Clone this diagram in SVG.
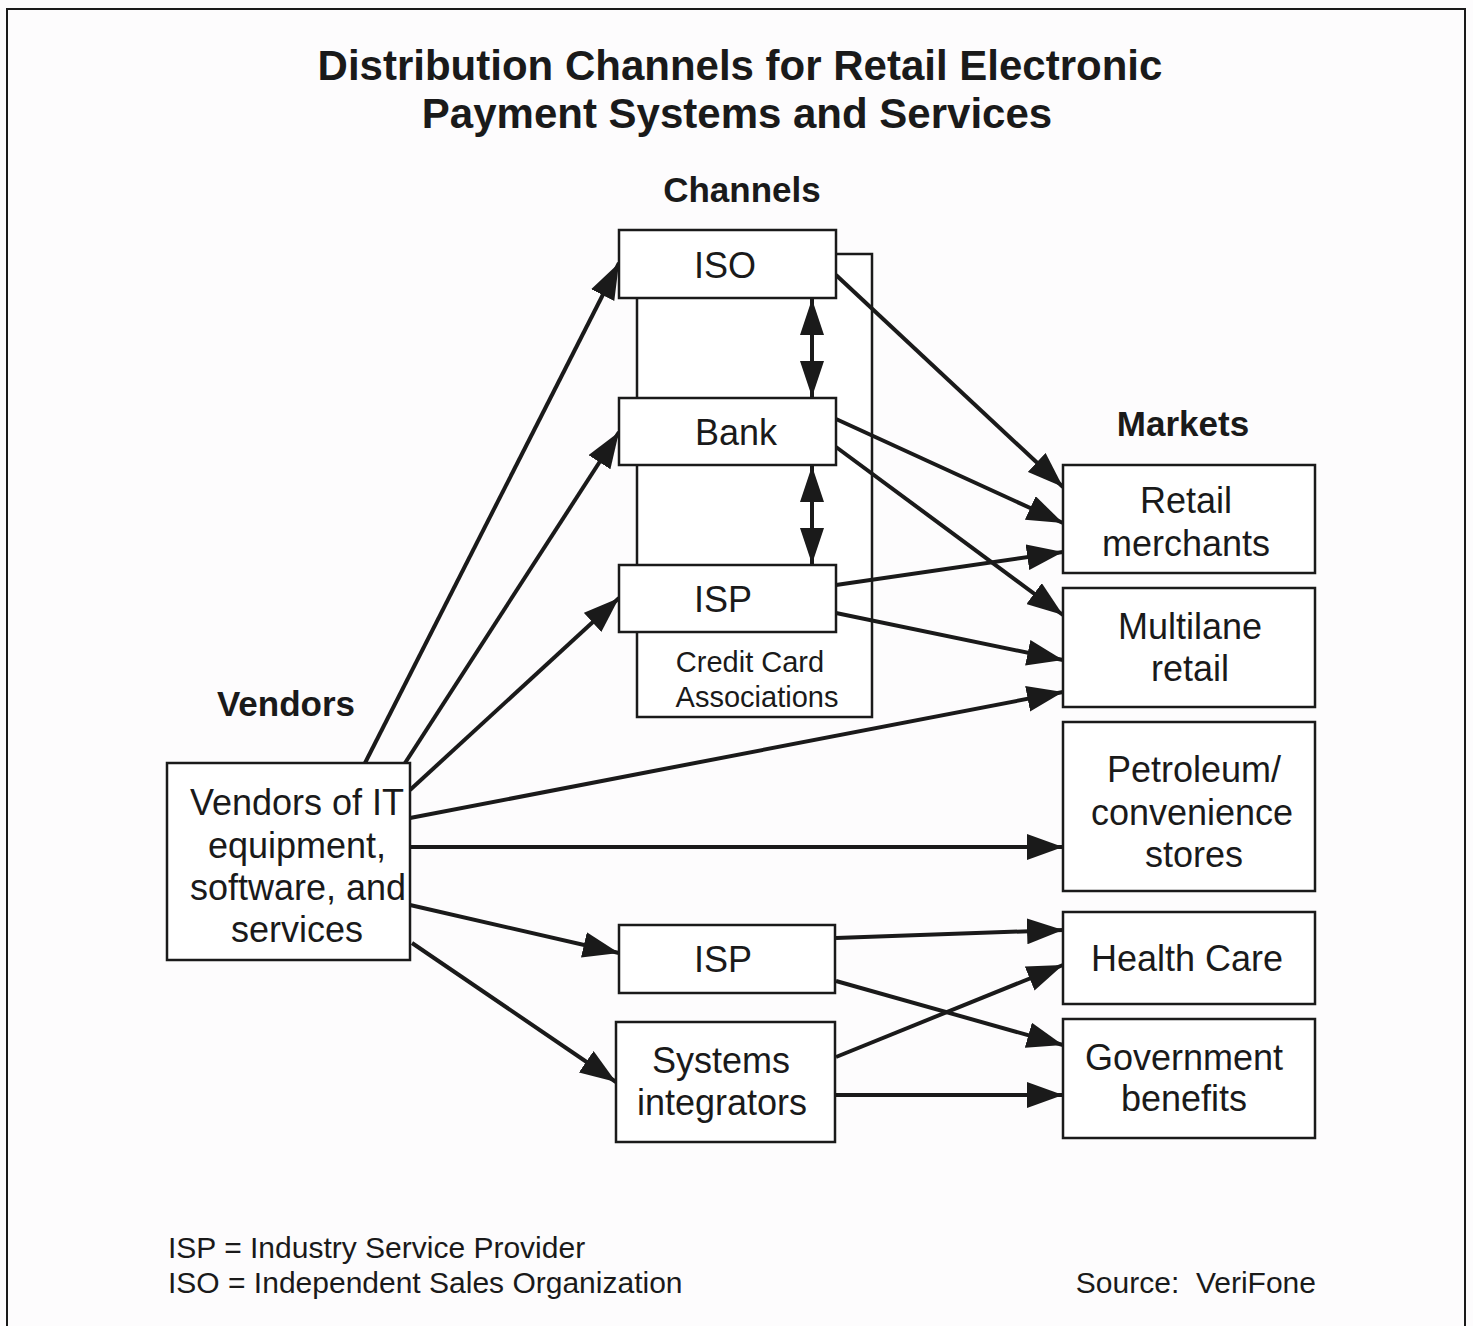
<svg xmlns="http://www.w3.org/2000/svg" width="1473" height="1326" viewBox="0 0 1473 1326">
  <style>
    .box { fill: #ffffff; stroke: #1a1a1a; stroke-width: 2.5; }
    .frame { fill: none; stroke: #1a1a1a; stroke-width: 2; }
    .lbl { font-family: "Liberation Sans", Arial, sans-serif; font-size: 36px; fill: #1a1a1a; text-anchor: middle; }
    .small { font-family: "Liberation Sans", Arial, sans-serif; font-size: 29px; fill: #1a1a1a; text-anchor: middle; }
    .head { font-family: "Liberation Sans", Arial, sans-serif; font-size: 35px; font-weight: bold; fill: #1a1a1a; text-anchor: middle; }
    .title { font-family: "Liberation Sans", Arial, sans-serif; font-size: 42px; font-weight: bold; fill: #1a1a1a; text-anchor: middle; }
    .note { font-family: "Liberation Sans", Arial, sans-serif; font-size: 30px; fill: #1a1a1a; }
    .conn { fill: none; stroke: #1a1a1a; stroke-width: 4; marker-end: url(#head); }
    .dbl { fill: none; stroke: #1a1a1a; stroke-width: 4; marker-start: url(#head2); marker-end: url(#head2); }
  </style>
  <defs>
    <marker id="head" viewBox="0 0 36 26" refX="36" refY="13" markerWidth="36" markerHeight="26" markerUnits="userSpaceOnUse" orient="auto">
      <path d="M0,0 L36,13 L0,26 Z" fill="#1a1a1a"/>
    </marker>
    <marker id="head2" viewBox="0 0 36 24" refX="36" refY="12" markerWidth="36" markerHeight="24" markerUnits="userSpaceOnUse" orient="auto-start-reverse">
      <path d="M0,0 L36,12 L0,24 Z" fill="#1a1a1a"/>
    </marker>
  </defs>

  <rect width="1473" height="1326" fill="#fdfcfd"/>
  <path class="frame" d="M7,1326 V9 H1465 V1326"/>

  <!-- Title and column headings -->
  <text class="title" x="740" y="80">Distribution Channels for Retail Electronic</text>
  <text class="title" x="737" y="128">Payment Systems and Services</text>
  <text class="head" x="742" y="202">Channels</text>
  <text class="head" x="1183" y="436">Markets</text>
  <text class="head" x="286" y="716">Vendors</text>

  <!-- Credit card association enclosure -->
  <g id="credit-card-associations">
    <rect class="box" x="637" y="254" width="235" height="463"/>
    <text class="small" x="750" y="672">Credit Card</text>
    <text class="small" x="757" y="707">Associations</text>
  </g>

  <!-- Connectors -->
  <g id="connectors">
    <line class="conn" x1="365" y1="763" x2="619" y2="263"/>
    <line class="conn" x1="405" y1="763" x2="619" y2="432"/>
    <line class="conn" x1="410" y1="790" x2="619" y2="598"/>
    <line class="conn" x1="410" y1="818" x2="1063" y2="692"/>
    <line class="conn" x1="410" y1="847" x2="1063" y2="847"/>
    <line class="conn" x1="410" y1="905" x2="619" y2="953"/>
    <line class="conn" x1="412" y1="943" x2="616" y2="1082"/>

    <line class="conn" x1="836" y1="275" x2="1063" y2="487"/>
    <line class="conn" x1="836" y1="419" x2="1063" y2="523"/>
    <line class="conn" x1="836" y1="447" x2="1063" y2="615"/>
    <line class="conn" x1="836" y1="585" x2="1063" y2="552"/>
    <line class="conn" x1="836" y1="613" x2="1063" y2="660"/>

    <line class="conn" x1="836" y1="938" x2="1063" y2="930"/>
    <line class="conn" x1="836" y1="981" x2="1063" y2="1045"/>
    <line class="conn" x1="836" y1="1057" x2="1063" y2="965"/>
    <line class="conn" x1="836" y1="1095" x2="1063" y2="1095"/>

    <line class="dbl" x1="812" y1="299" x2="812" y2="397"/>
    <line class="dbl" x1="812" y1="466" x2="812" y2="564"/>
  </g>

  <!-- Channel nodes -->
  <g id="iso">
    <rect class="box" x="619" y="230" width="217" height="68"/>
    <text class="lbl" x="725" y="278">ISO</text>
  </g>
  <g id="bank">
    <rect class="box" x="619" y="398" width="217" height="67"/>
    <text class="lbl" x="736" y="445">Bank</text>
  </g>
  <g id="isp-top">
    <rect class="box" x="619" y="565" width="217" height="67"/>
    <text class="lbl" x="723" y="612">ISP</text>
  </g>
  <g id="isp-bottom">
    <rect class="box" x="619" y="925" width="216" height="68"/>
    <text class="lbl" x="723" y="972">ISP</text>
  </g>
  <g id="systems-integrators">
    <rect class="box" x="616" y="1022" width="219" height="120"/>
    <text class="lbl" x="721" y="1073">Systems</text>
    <text class="lbl" x="722" y="1115">integrators</text>
  </g>

  <!-- Vendor node -->
  <g id="vendors">
    <rect class="box" x="167" y="763" width="243" height="197"/>
    <text class="lbl" x="297" y="815">Vendors of IT</text>
    <text class="lbl" x="297" y="858">equipment,</text>
    <text class="lbl" x="298" y="900">software, and</text>
    <text class="lbl" x="297" y="942">services</text>
  </g>

  <!-- Market nodes -->
  <g id="retail-merchants">
    <rect class="box" x="1063" y="465" width="252" height="108"/>
    <text class="lbl" x="1186" y="513">Retail</text>
    <text class="lbl" x="1186" y="556">merchants</text>
  </g>
  <g id="multilane-retail">
    <rect class="box" x="1063" y="588" width="252" height="119"/>
    <text class="lbl" x="1190" y="639">Multilane</text>
    <text class="lbl" x="1190" y="681">retail</text>
  </g>
  <g id="petroleum">
    <rect class="box" x="1063" y="722" width="252" height="169"/>
    <text class="lbl" x="1194" y="782">Petroleum/</text>
    <text class="lbl" x="1192" y="825">convenience</text>
    <text class="lbl" x="1194" y="867">stores</text>
  </g>
  <g id="health-care">
    <rect class="box" x="1063" y="912" width="252" height="92"/>
    <text class="lbl" x="1187" y="971">Health Care</text>
  </g>
  <g id="government-benefits">
    <rect class="box" x="1063" y="1019" width="252" height="119"/>
    <text class="lbl" x="1184" y="1070">Government</text>
    <text class="lbl" x="1184" y="1111">benefits</text>
  </g>

  <!-- Footnotes -->
  <text class="note" x="168" y="1258">ISP = Industry Service Provider</text>
  <text class="note" x="168" y="1293">ISO = Independent Sales Organization</text>
  <text class="note" x="1316" y="1293" text-anchor="end" xml:space="preserve">Source:  VeriFone</text>
</svg>
